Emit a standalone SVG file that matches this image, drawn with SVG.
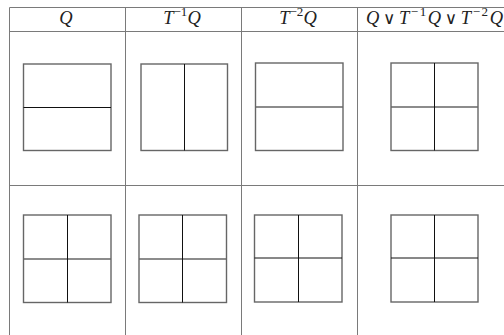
<svg xmlns="http://www.w3.org/2000/svg" width="504" height="335" viewBox="0 0 504 335">
<style>
.grid{stroke:#7a7a7a;stroke-width:1;fill:none}
.box{stroke:#666;stroke-width:1.4;fill:none}
.inner{stroke:#111;stroke-width:1;fill:none}
.hdr{font-family:"Liberation Serif","DejaVu Serif",serif;font-style:italic;font-size:18.5px;fill:#222}
.sup{font-size:13px;font-style:normal}
.op{font-style:normal;font-family:"DejaVu Sans",sans-serif;font-size:17px}
</style>
<rect width="504" height="335" fill="#fff"/>
<g id="table">
<path class="grid" d="M9.5,7.5H504 M9.5,31.5H504 M9.5,185.5H504 M9.5,7.5V335 M125.5,7.5V335 M241.5,7.5V335 M357.5,7.5V335"/>
</g>
<g id="headers">
<text class="hdr" x="66" y="23.5" text-anchor="middle">Q</text>
<text class="hdr" x="182" y="23.5" text-anchor="middle">T<tspan class="sup" dy="-7.5">−1</tspan><tspan dy="7.5">Q</tspan></text>
<text class="hdr" x="298" y="23.5" text-anchor="middle">T<tspan class="sup" dy="-7.5">−2</tspan><tspan dy="7.5">Q</tspan></text>
<text class="hdr" x="366" y="23.5" textLength="137" lengthAdjust="spacing">Q<tspan class="op" dx="2">∨</tspan><tspan dx="2">T</tspan><tspan class="sup" dy="-7.5">−1</tspan><tspan dy="7.5">Q</tspan><tspan class="op" dx="2">∨</tspan><tspan dx="2">T</tspan><tspan class="sup" dy="-7.5">−2</tspan><tspan dy="7.5">Q</tspan></text>
</g>
<g id="r1c1"><rect class="box" x="23.5" y="64" width="87.5" height="86.5"/><path class="inner" d="M23.5,107.5H111"/></g>
<g id="r1c2"><rect class="box" x="141" y="64" width="86.5" height="86.5"/><path class="inner" d="M184.5,64V150.5"/></g>
<g id="r1c3"><rect class="box" x="255.5" y="63" width="87.5" height="87.5"/><path class="box" d="M255.5,107H343"/></g>
<g id="r1c4"><rect class="box" x="391" y="63" width="87" height="87.5"/><path class="box" d="M391,107H478"/><path class="inner" d="M434.5,63V150.5"/></g>
<g id="r2c1"><rect class="box" x="23.5" y="215" width="87.5" height="87.5"/><path class="box" d="M23.5,259H111"/><path class="inner" d="M67.5,215V302.5"/></g>
<g id="r2c2"><rect class="box" x="139" y="215" width="87.5" height="87.5"/><path class="box" d="M139,259H226.5"/><path class="inner" d="M182.5,215V302.5"/></g>
<g id="r2c3"><rect class="box" x="254.5" y="215" width="87.5" height="87"/><path class="inner" d="M254.5,258H342 M298.5,215V302"/></g>
<g id="r2c4"><rect class="box" x="391" y="215" width="87" height="87"/><path class="inner" d="M391,258H478 M434.5,215V302"/></g>
</svg>
